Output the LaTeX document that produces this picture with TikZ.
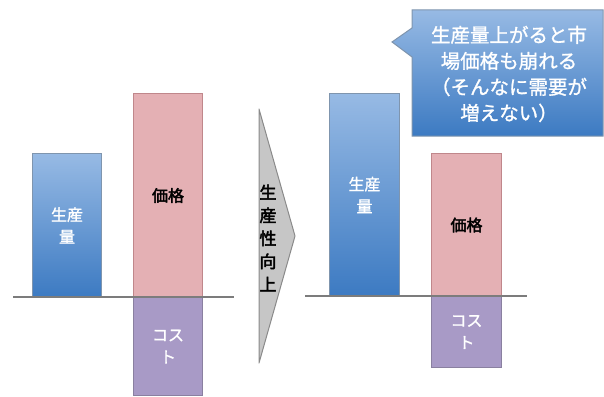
\documentclass[tikz,border=0pt]{standalone}
\usepackage{fontspec}
\setmainfont{Noto Sans CJK JP}
\newfontfamily\cjk{Noto Sans CJK JP}[FakeBold=1.2]
\newfontfamily\cjkb{Noto Sans CJK JP}[FakeBold=2.5]
\definecolor{bluetop}{HTML}{97BAE4}
\definecolor{bluebot}{HTML}{3C7AC2}
\definecolor{blueedge}{HTML}{7F95AE}
\definecolor{pinkfill}{HTML}{E4B0B4}
\definecolor{pinkedge}{HTML}{C0878B}
\definecolor{purpfill}{HTML}{A89AC6}
\definecolor{purpedge}{HTML}{8A80A0}
\definecolor{arrowfill}{HTML}{C6C6C6}
\definecolor{arrowedge}{HTML}{8A8A8A}
\definecolor{baseline}{HTML}{7C7C7C}
\begin{document}
\begin{tikzpicture}[x=1pt,y=-1pt,
  bar/.style={draw, line width=1pt, anchor=north west, inner sep=0pt, align=center,
    font=\cjk\fontsize{16}{22}\selectfont},
  bluebar/.style={bar, draw=blueedge, top color=bluetop, bottom color=bluebot, text=white},
  pinkbar/.style={bar, draw=pinkedge, fill=pinkfill, text=black, font=\cjkb\fontsize{16}{22}\selectfont},
  purpbar/.style={bar, draw=purpedge, fill=purpfill, text=white},
  axisline/.style={draw=baseline, line width=2pt}]
\useasboundingbox (0,0) rectangle (604,396);
% left panel
\node[bluebar, minimum width=69pt, minimum height=144pt] (q1) at (32,153) {生産\\量};
\node[pinkbar, minimum width=69pt, minimum height=204pt] (p1) at (133,93) {価格};
\node[purpbar, minimum width=69pt, minimum height=98pt] (c1) at (133,297) {コス\\ト};
\coordinate (l1) at (13,297);
\coordinate (r1) at (234,297);
\draw[axisline] (l1) -- (r1);
% arrow
\coordinate (at) at (259,109);
\coordinate (ab) at (259,363);
\coordinate (tip) at (295,236);
\draw[draw=arrowedge, fill=arrowfill, line width=1pt, line join=round] (at) -- (tip) -- (ab) -- cycle;
\node[align=center, font=\cjkb\fontsize{17}{23}\selectfont, inner sep=0pt] (atext) at (268,238) {生\\産\\性\\向\\上};
% right panel
\node[bluebar, minimum width=70pt, minimum height=203pt] (q2) at (329,93) {生産\\量};
\node[pinkbar, minimum width=70pt, minimum height=143pt] (p2) at (431,153) {価格};
\node[purpbar, minimum width=70pt, minimum height=71pt] (c2) at (431,296) {コス\\ト};
\coordinate (l2) at (305,296);
\coordinate (r2) at (527,296);
\draw[axisline] (l2) -- (r2);
% callout
\draw[draw=blueedge, line width=1pt, top color=bluetop, bottom color=bluebot]
  (412,10) -- (603,10) -- (603,136) -- (412,136) -- (412,57) -- (392,42) -- (412,28) -- cycle;
\node[align=center, text=white, font=\cjk\fontsize{19.5}{26}\selectfont, inner sep=0pt] (ctext) at (509,74)
  {生産量上がると市\\場価格も崩れる\\（そんなに需要が\\増えない）};
\end{tikzpicture}
\end{document}
